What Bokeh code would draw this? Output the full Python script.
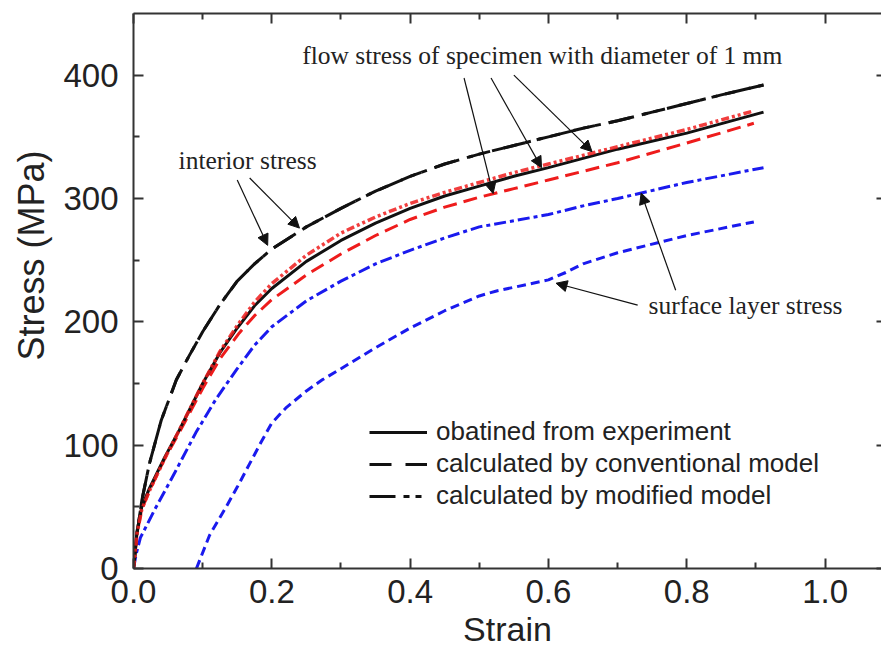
from bokeh.plotting import figure
from bokeh.models import (Range1d, LinearAxis, Label, Arrow, NormalHead, Legend, Title,
                          LegendItem, FixedTicker, PrintfTickFormatter, CustomJSTickFormatter)
from bokeh.embed import file_html
from bokeh.resources import INLINE

# ---- data ----
x_ticks = [0.0, 0.2, 0.4, 0.6, 0.8, 1.0]
x_minor = [0.1, 0.3, 0.5, 0.7, 0.9]
y_ticks = [0, 100, 200, 300, 400]
y_minor = [50, 150, 250, 350]

# experiment (black solid)
exp_x = [0, 0.005, 0.012, 0.023, 0.045, 0.066, 0.10, 0.125, 0.15, 0.175, 0.20, 0.25, 0.30, 0.35, 0.40,
         0.45, 0.50, 0.55, 0.60, 0.70, 0.80, 0.911]
exp_y = [0, 30, 50, 65, 90, 112, 150, 175, 195, 213, 227, 249, 266, 280, 292,
         302, 310, 318, 325, 340, 353, 370]

# interior stress (black, conventional dashed + modified dash-dot-dot)
int_x = [0, 0.005, 0.012, 0.023, 0.04, 0.062, 0.08, 0.10, 0.125, 0.15, 0.175, 0.20, 0.25, 0.30, 0.35,
         0.40, 0.45, 0.50, 0.55, 0.60, 0.65, 0.70, 0.75, 0.80, 0.85, 0.911]
int_y = [0, 28, 55, 85, 120, 153, 172, 192, 214, 233, 247, 259, 277, 292, 306,
         318, 328, 336, 343, 350, 357, 363, 370, 377, 384, 392]

# flow stress, modified model (red dash-dot-dot)
flowm_x = [0, 0.005, 0.012, 0.023, 0.045, 0.066, 0.10, 0.125, 0.15, 0.175, 0.20, 0.25, 0.30, 0.35, 0.40,
           0.45, 0.50, 0.55, 0.60, 0.70, 0.80, 0.897]
flowm_y = [0, 28, 48, 63, 89, 112, 150, 176, 197, 216, 231, 254, 272, 285, 296,
           305, 313, 321, 328, 342, 356, 371]

# flow stress, conventional model (red dashed)
flowc_x = [0, 0.005, 0.012, 0.023, 0.045, 0.066, 0.10, 0.125, 0.153, 0.175, 0.20, 0.25, 0.30, 0.35, 0.40,
           0.45, 0.50, 0.55, 0.60, 0.70, 0.80, 0.897]
flowc_y = [0, 28, 48, 63, 89, 110, 146, 170, 191, 205, 218, 238, 255, 270, 283,
           293, 301, 308, 315, 329, 345, 361]

# surface layer stress, modified model (blue dash-dot)
surfm_x = [0, 0.004, 0.01, 0.03, 0.06, 0.09, 0.12, 0.15, 0.175, 0.2, 0.25, 0.3, 0.35, 0.4, 0.45, 0.5,
           0.55, 0.6, 0.65, 0.7, 0.8, 0.911]
surfm_y = [0, 12, 25, 47, 78, 110, 138, 162, 181, 196, 217, 233, 247, 258, 268, 277,
           282, 287, 294, 300, 313, 325]

# surface layer stress, conventional model (blue dashed)
surfc_x = [0.091, 0.11, 0.134, 0.15, 0.168, 0.185, 0.2, 0.22, 0.25, 0.273, 0.3, 0.35, 0.4, 0.45, 0.5,
           0.525, 0.55, 0.6, 0.625, 0.65, 0.7, 0.75, 0.8, 0.897]
surfc_y = [0, 27, 50, 66, 85, 103, 118, 130, 144, 153, 162, 179, 195, 209, 221,
           225, 228, 234, 240, 247, 256, 263, 270, 281]

legend_labels = ["obatined from experiment", "calculated by conventional model", "calculated by modified model"]

BLACK = "#111111"
RED = "#ee1c1c"
BLUE = "#1a1aee"
AX = "#333333"
TXT = "#222222"
SANS = "Liberation Sans"
SERIF = "Liberation Serif"

p = figure(width=881, height=655, x_range=Range1d(0, 1.0816), y_range=Range1d(0, 450),
           output_backend="svg", toolbar_location=None,
           min_border_left=132, min_border_right=0, min_border_top=13, min_border_bottom=87)
p.outline_line_color = None
p.xgrid.visible = False
p.ygrid.visible = False
p.background_fill_color = "white"
p.border_fill_color = "white"

for ax in (p.xaxis[0], p.yaxis[0]):
    ax.axis_line_width = 2
    ax.axis_line_color = AX
    ax.major_tick_in = 10
    ax.major_tick_out = 0
    ax.minor_tick_in = 6
    ax.minor_tick_out = 0
    ax.major_tick_line_width = 2
    ax.minor_tick_line_width = 2
    ax.major_tick_line_color = AX
    ax.minor_tick_line_color = AX
    ax.major_label_text_font = SANS
    ax.major_label_text_font_size = "33px"
    ax.major_label_text_color = TXT
    ax.axis_label_text_font = SANS
    ax.axis_label_text_font_style = "normal"
    ax.axis_label_text_color = TXT

p.xaxis[0].ticker = FixedTicker(ticks=x_ticks, minor_ticks=x_minor)
p.xaxis[0].formatter = PrintfTickFormatter(format="%.1f")
p.xaxis[0].axis_label = "Strain"
p.xaxis[0].axis_label_text_font_size = "34px"
p.xaxis[0].major_label_standoff = 11
p.xaxis[0].axis_label_standoff = 4
p.yaxis[0].ticker = FixedTicker(ticks=y_ticks, minor_ticks=y_minor)
p.yaxis[0].major_label_standoff = 15

# y title as a side title so it can sit a little above the frame centre, like the reference
p.add_layout(Title(text="Stress (MPa)", align="left", offset=208, standoff=17,
                   text_font=SANS, text_font_size="36px", text_font_style="normal",
                   text_color=TXT), "left")

blank = CustomJSTickFormatter(code="return ''")
top = LinearAxis(ticker=FixedTicker(ticks=x_ticks, minor_ticks=x_minor), formatter=blank,
                 axis_line_width=2, axis_line_color=AX, major_tick_in=10, major_tick_out=0,
                 minor_tick_in=6, minor_tick_out=0, major_tick_line_width=2, minor_tick_line_width=2,
                 major_tick_line_color=AX, minor_tick_line_color=AX, major_label_standoff=0)
p.add_layout(top, "above")
right = LinearAxis(ticker=FixedTicker(ticks=y_ticks, minor_ticks=[]), formatter=blank,
                   axis_line_color=None, major_tick_in=5, major_tick_out=0,
                   minor_tick_in=0, minor_tick_out=0, major_tick_line_width=2,
                   major_tick_line_color=AX, major_label_standoff=0)
p.add_layout(right, "right")

# ---- curves ----
p.line(surfc_x, surfc_y, line_color=BLUE, line_width=3, line_dash="9 5")
p.line(surfm_x, surfm_y, line_color=BLUE, line_width=3, line_dash="12 4 4 4")
p.line(flowc_x, flowc_y, line_color=RED, line_width=3, line_dash="14 7")
r_conv = p.line(int_x, int_y, line_color=BLACK, line_width=3, line_dash="22 14")
r_mod = p.line(int_x, int_y, line_color=BLACK, line_width=3, line_dash="26 8 6 6 6 8")
r_exp = p.line(exp_x, exp_y, line_color=BLACK, line_width=3)
p.line(flowm_x, flowm_y, line_color=RED, line_width=3.5, line_alpha=0.85, line_dash="8 3 3 3 3 3")

legend = Legend(items=[LegendItem(label=legend_labels[0], renderers=[r_exp]),
                       LegendItem(label=legend_labels[1], renderers=[r_conv]),
                       LegendItem(label=legend_labels[2], renderers=[r_mod])],
                location=(236, 57), padding=0, margin=0, spacing=1,
                glyph_width=58, glyph_height=22, label_height=22, label_standoff=9,
                label_text_font=SANS, label_text_font_size="26px", label_text_color=TXT,
                border_line_color=None, background_fill_alpha=0)
p.add_layout(legend)

# ---- annotations ----
for txt, x, y in [("flow stress of specimen with diameter of 1 mm", 0.591, 416),
                  ("interior stress", 0.165, 331),
                  ("surface layer stress", 0.885, 213.5)]:
    p.add_layout(Label(x=x, y=y, text=txt, text_font=SERIF, text_font_size="25.5px",
                       text_align="center", text_baseline="middle", text_color=TXT))

arrows = [(0.478, 397.7, 0.520, 304),
          (0.517, 397.7, 0.590, 325),
          (0.550, 400.0, 0.663, 338),
          (0.150, 315.0, 0.194, 262),
          (0.168, 316.6, 0.240, 276),
          (0.729, 213.5, 0.611, 231.3),
          (0.784, 225.6, 0.734, 304.4)]
for xs, ys, xe, ye in arrows:
    p.add_layout(Arrow(end=NormalHead(size=11, fill_color=BLACK, line_color=BLACK),
                       x_start=xs, y_start=ys, x_end=xe, y_end=ye,
                       line_color=BLACK, line_width=1.2))

open("out.html", "w").write(file_html(p, INLINE))
